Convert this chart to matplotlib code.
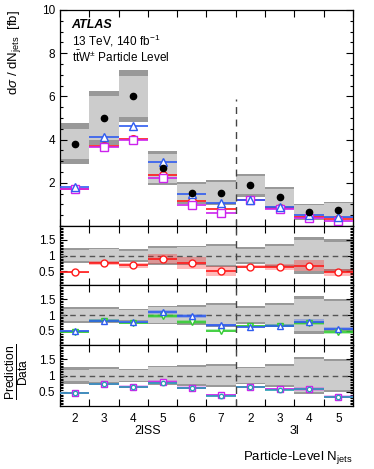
import numpy as np
import matplotlib
matplotlib.use("Agg")
import matplotlib.pyplot as plt
from matplotlib.ticker import MultipleLocator, NullFormatter

plt.rcParams['font.family'] = ['Liberation Sans', 'DejaVu Sans']
plt.rcParams['mathtext.fontset'] = 'custom'
plt.rcParams['mathtext.rm'] = 'Liberation Sans'
plt.rcParams['mathtext.it'] = 'Liberation Sans:italic'
plt.rcParams['mathtext.bf'] = 'Liberation Sans:bold'

# ---------------- data ----------------
bin_labels = ["2", "3", "4", "5", "6", "7", "2", "3", "4", "5"]
group_labels = ["2lSS", "3l"]

data = [3.8, 5.0, 6.0, 2.68, 1.53, 1.55, 1.89, 1.32, 0.64, 0.73]
tot_rel = [0.25, 0.25, 0.20, 0.30, 0.32, 0.37, 0.28, 0.37, 0.59, 0.52]
stat_rel = [0.18, 0.20, 0.16, 0.25, 0.26, 0.31, 0.22, 0.31, 0.50, 0.44]

pred_blue = [1.80, 4.12, 4.65, 2.95, 1.50, 1.05, 1.20, 0.86, 0.50, 0.41]
pred_red = [1.72, 3.72, 4.02, 2.37, 1.17, 0.77, 1.21, 0.85, 0.44, 0.33]
pred_magenta = [1.70, 3.65, 4.00, 2.22, 0.97, 0.62, 1.20, 0.78, 0.38, 0.24]

ratio_red = [0.46, 0.75, 0.68, 0.89, 0.76, 0.50, 0.64, 0.64, 0.67, 0.46]
ratio_red_unc = [0.02, 0.07, 0.08, 0.15, 0.20, 0.17, 0.05, 0.10, 0.17, 0.12]

ratio_blue = [0.48, 0.82, 0.78, 1.10, 0.97, 0.68, 0.63, 0.66, 0.79, 0.56]
ratio_blue_unc = [0.03, 0.04, 0.04, 0.06, 0.06, 0.05, 0.03, 0.04, 0.07, 0.05]
ratio_green = [0.47, 0.82, 0.74, 0.96, 0.79, 0.50, 0.66, 0.66, 0.74, 0.46]
ratio_green_unc = [0.03, 0.04, 0.04, 0.06, 0.06, 0.05, 0.03, 0.04, 0.07, 0.05]

ratio_magenta = [0.45, 0.74, 0.65, 0.80, 0.62, 0.38, 0.64, 0.58, 0.59, 0.34]
ratio_magenta_unc = [0.03, 0.04, 0.04, 0.05, 0.05, 0.04, 0.03, 0.04, 0.06, 0.04]
ratio_cyan = [0.45, 0.73, 0.64, 0.78, 0.60, 0.37, 0.64, 0.56, 0.57, 0.33]
ratio_cyan_unc = [0.02, 0.02, 0.02, 0.03, 0.03, 0.02, 0.02, 0.02, 0.03, 0.02]

# ---------------- style ----------------
C_LIGHT = '#cccccc'
C_DARK = '#999999'
C_BLUE = '#2f5cf0'
C_RED = '#ff1a1a'
C_MAG = '#cc22ee'
C_GREEN = '#33cc33'
C_CYAN = '#2a9fb5'

n = len(data)
edges = np.arange(n + 1)
centers = edges[:-1] + 0.5
data = np.array(data)
tot_rel = np.array(tot_rel)
stat_rel = np.array(stat_rel)

fig = plt.figure(figsize=(3.74, 4.69), dpi=100)
L, W = 0.1604, 0.7834
ax0 = fig.add_axes([L, 0.5181, W, 0.4606])
ax1 = fig.add_axes([L, 0.3923, W, 0.1258])
ax2 = fig.add_axes([L, 0.2644, W, 0.1279])
ax3 = fig.add_axes([L, 0.1343, W, 0.1301])
axes = [ax0, ax1, ax2, ax3]

def band(ax, lo, hi, color, alpha=1.0, z=1):
    lo = np.asarray(lo); hi = np.asarray(hi)
    ax.bar(centers, hi - lo, bottom=lo, width=1.0, color=color, alpha=alpha,
           linewidth=0, zorder=z)

def pred(ax, vals, color, marker, ms=5.0, mfc='white', z=4, lw=1.2):
    ax.hlines(vals, edges[:-1], edges[1:], colors=color, linewidth=lw, zorder=z)
    ax.plot(centers, vals, linestyle='none', marker=marker, ms=ms, mec=color,
            mfc=mfc, mew=1.0, zorder=z + 0.5)

# ---- top panel ----
band(ax0, data * (1 - tot_rel), data * (1 + tot_rel), C_DARK)
band(ax0, data * (1 - stat_rel), data * (1 + stat_rel), C_LIGHT, z=1.5)
pred(ax0, pred_red, C_RED, 'o', ms=5.5)
pred(ax0, pred_magenta, C_MAG, 's', ms=5.5)
pred(ax0, pred_blue, C_BLUE, '^', ms=5.5)
ax0.plot(centers, data, 'o', color='black', ms=4.5, zorder=6)
ax0.plot([6, 6], [0, 5.9], linestyle=(0, (5, 4)), color='#444444', lw=1.0, zorder=7)
ax0.set_ylim(0, 10)
ax0.set_yticks([2, 4, 6, 8, 10])
ax0.yaxis.set_minor_locator(MultipleLocator(0.5))
ax0.set_ylabel(r'd$\sigma$ / dN$_{\mathrm{jets}}$  [fb]', fontsize=9.5, loc='top')
ax0.yaxis.set_label_coords(-0.125, 1.0)

ax0.text(0.04, 0.93, 'ATLAS', transform=ax0.transAxes, fontsize=9,
         fontweight='bold', fontstyle='italic', va='center')
ax0.text(0.04, 0.855, r'13 TeV, 140 fb$^{\mathregular{-1}}$', transform=ax0.transAxes,
         fontsize=8.5, va='center')
ax0.text(0.04, 0.78, r'$\mathrm{t\bar{t}W^{\pm}}$ Particle Level', transform=ax0.transAxes,
         fontsize=8.5, va='center')

# ---- ratio panels ----
def ratio_base(ax):
    band(ax, 1 - tot_rel, 1 + tot_rel, C_DARK)
    band(ax, 1 - stat_rel, 1 + stat_rel, C_LIGHT, z=1.5)
    ax.axhline(1.0, color='#555555', linestyle=(0, (4, 3)), lw=1.0, zorder=2)
    ax.axvline(6, color='#444444', linestyle=(0, (5, 4)), lw=1.0, zorder=7)
    ax.set_ylim(0.05, 1.95)
    ax.set_yticks([0.5, 1.0, 1.5])
    ax.set_yticklabels(['0.5', '1', '1.5'])
    ax.yaxis.set_minor_locator(MultipleLocator(0.05))

ratio_base(ax1)
r = np.array(ratio_red); ru = np.array(ratio_red_unc)
band(ax1, r - ru, r + ru, C_RED, alpha=0.3, z=3)
pred(ax1, ratio_red, C_RED, 'o')

ratio_base(ax2)
r = np.array(ratio_green); ru = np.array(ratio_green_unc)
band(ax2, r - ru, r + ru, C_GREEN, alpha=0.35, z=3)
r = np.array(ratio_blue); ru = np.array(ratio_blue_unc)
band(ax2, r - ru, r + ru, C_BLUE, alpha=0.3, z=3)
pred(ax2, ratio_green, C_GREEN, 'v', z=4)
pred(ax2, ratio_blue, C_BLUE, '^', z=4.2)

ratio_base(ax3)
r = np.array(ratio_magenta); ru = np.array(ratio_magenta_unc)
band(ax3, r - ru, r + ru, C_MAG, alpha=0.3, z=3)
r = np.array(ratio_cyan); ru = np.array(ratio_cyan_unc)
band(ax3, r - ru, r + ru, C_CYAN, alpha=0.3, z=3)
pred(ax3, ratio_magenta, C_MAG, 's', z=4)
pred(ax3, ratio_cyan, C_CYAN, 'o', ms=3.2, z=4.2)

fig.text(0.045, 0.207, r'$\frac{\mathrm{Prediction}}{\mathrm{Data}}$', rotation=90,
         fontsize=12.5, ha='center', va='center')

# ---- axes styling ----
for ax in axes:
    ax.set_xlim(0, n)
    ax.set_xticks(edges)
    ax.xaxis.set_major_formatter(NullFormatter())
    ax.tick_params(which='both', direction='in', top=True, right=True,
                   labelsize=8.5, width=0.8)
    ax.tick_params(which='major', length=5)
    ax.tick_params(axis='y', which='minor', length=2.5)
    for s in ax.spines.values():
        s.set_linewidth(0.9)

ax3.set_xticks(centers, minor=True)
ax3.set_xticklabels(bin_labels, minor=True)
ax3.tick_params(axis='x', which='minor', length=0, pad=5, labelsize=8.5)

fig.text(L + W * 3 / n, 1 - 431 / 469, group_labels[0], ha='center', va='center', fontsize=9)
fig.text(L + W * 8 / n, 1 - 431 / 469, group_labels[1], ha='center', va='center', fontsize=9)
fig.text(L + W, 1 - 457 / 469, r'Particle-Level N$_{\mathrm{jets}}$', ha='right',
         va='center', fontsize=9.5)

fig.savefig('out.png', dpi=100)
